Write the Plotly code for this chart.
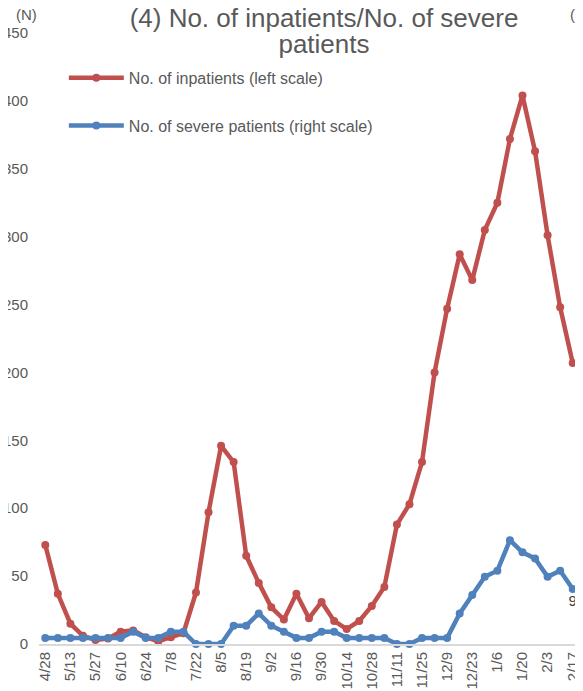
import plotly.graph_objects as go

categories = ["4/28", "5/6", "5/13", "5/20", "5/27", "6/3", "6/10", "6/17", "6/24", "7/1",
              "7/8", "7/15", "7/22", "7/29", "8/5", "8/12", "8/19", "8/26", "9/2", "9/9",
              "9/16", "9/23", "9/30", "10/7", "10/14", "10/21", "10/28", "11/4", "11/11", "11/18",
              "11/25", "12/2", "12/9", "12/16", "12/23", "12/30", "1/6", "1/13", "1/20", "1/27",
              "2/3", "2/10", "2/17"]
tick_labels = ["4/28", "5/13", "5/27", "6/10", "6/24", "7/8", "7/22", "8/5", "8/19", "9/2", "9/16",
               "9/30", "10/14", "10/28", "11/11", "11/25", "12/9", "12/23", "1/6", "1/20", "2/3", "2/17"]
inpatients = [73, 37, 15, 6, 3, 4, 9, 10, 5, 2, 5, 8, 38, 97, 146, 134, 65, 45, 27, 18, 37, 19,
              31, 17, 11, 17, 28, 42, 88, 103, 134, 200, 247, 287, 268, 305, 325, 372, 404, 363,
              301, 248, 207]
severe = [1, 1, 1, 1, 1, 1, 1, 2, 1, 1, 2, 2, 0, 0, 0, 3, 3, 5, 3, 2, 1, 1, 2, 2, 1, 1, 1, 1,
          0, 0, 1, 1, 1, 5, 8, 11, 12, 17, 15, 14, 11, 12, 9]
left_ticks = [0, 50, 100, 150, 200, 250, 300, 350, 400, 450]
right_ticks = [0, 10, 20, 30, 40, 50, 60, 70, 80, 90, 100]
title_lines = ["(4) No. of inpatients/No. of severe", "patients"]

RED = "#C0504D"
BLUE = "#4F81BD"
GREY = "#595959"
FONT = "Liberation Sans, Arial, sans-serif"

W, H = 583, 691
ML, MR, MT, MB = 31, 12, 25, 55
PW, PH = W - ML - MR, H - MT - MB

red_text = [""] * (len(inpatients) - 1) + [str(inpatients[-1])]
blue_text = [""] * (len(severe) - 1) + [str(severe[-1])]

title_html = "<br>".join('<span style="font-size:26px">%s</span>' % t for t in title_lines)

fig = go.Figure()
fig.add_trace(go.Scatter(
    x=categories, y=inpatients, name="No. of inpatients (left scale)",
    mode="lines+markers+text", text=red_text, textposition="bottom right",
    textfont=dict(size=15, color="#404040", family=FONT),
    line=dict(color=RED, width=4.5), marker=dict(color=RED, size=8),
    cliponaxis=False, legendgroup="a", yaxis="y"))
fig.add_trace(go.Scatter(
    x=categories, y=severe, name="No. of severe patients (right scale)",
    mode="lines+markers+text", text=blue_text, textposition="bottom center",
    textfont=dict(size=15, color="#404040", family=FONT),
    line=dict(color=BLUE, width=4.5), marker=dict(color=BLUE, size=8),
    cliponaxis=False, legendgroup="b", yaxis="y2"))

fig.update_layout(
    width=W, height=H,
    margin=dict(l=ML, r=MR, t=MT, b=MB, autoexpand=False),
    paper_bgcolor="white", plot_bgcolor="white",
    font=dict(family=FONT, color=GREY),
    title=dict(text=title_html,
               x=316 / W, xanchor="center", y=1 - 19 / H, yanchor="top",
               font=dict(size=20, color=GREY, family=FONT)),
    showlegend=True,
    legend=dict(x=0.046, y=0.9545, xanchor="left", yanchor="top",
                font=dict(size=16, color=GREY, family=FONT),
                bgcolor="rgba(0,0,0,0)", traceorder="grouped", tracegroupgap=24,
                itemwidth=55),
    xaxis=dict(type="category", categoryorder="array", categoryarray=categories,
               range=[-0.5, len(categories) - 0.5],
               tickmode="array", tickvals=tick_labels, ticktext=tick_labels,
               tickangle=-90, tickfont=dict(size=15, color=GREY, family=FONT),
               showgrid=False, zeroline=False, showline=True, linecolor="#D9D9D9",
               linewidth=2, ticks="", automargin=False),
    yaxis=dict(range=[0, 450], tickmode="array", tickvals=left_ticks,
               tickfont=dict(size=15, color=GREY, family=FONT),
               showgrid=False, zeroline=False, showline=False, ticks="",
               ticklabelstandoff=10, automargin=False),
    yaxis2=dict(range=[0, 100], tickmode="array", tickvals=right_ticks, overlaying="y",
                side="right", tickfont=dict(size=15, color=GREY, family=FONT),
                showgrid=False, zeroline=False, showline=False, ticks="",
                ticklabelstandoff=10, automargin=False),
    annotations=[
        dict(text="(N)", xref="paper", yref="paper", x=(18 - ML) / PW, y=(H - MB - 6) / PH,
             xanchor="center", yanchor="middle", showarrow=False,
             font=dict(size=15, color=GREY, family=FONT)),
        dict(text="(N)", xref="paper", yref="paper", x=1, xshift=585 - (W - MR),
             y=(H - MB - 6) / PH,
             xanchor="right", yanchor="middle", showarrow=False,
             font=dict(size=15, color=GREY, family=FONT)),
    ],
)

fig.write_html("out.html")
